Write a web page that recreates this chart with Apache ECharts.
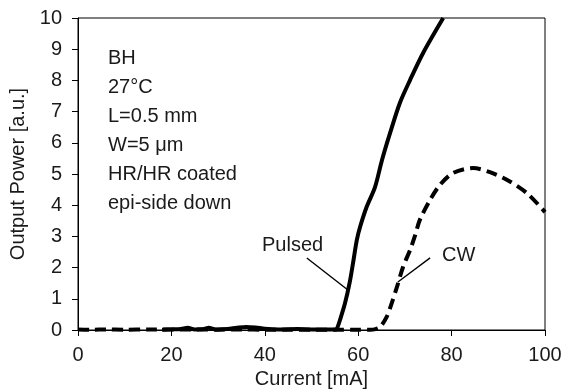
<!DOCTYPE html>
<html><head><meta charset="utf-8">
<script src="https://cdn.jsdelivr.net/npm/echarts@6/dist/echarts.min.js"></script>
<style>html,body{margin:0;padding:0;background:#fff}#c{width:564px;height:389px}</style>
</head><body><div id="c"></div>
<script>
const xTicks = [0, 20, 40, 60, 80, 100];
const yTicks = [0,1,2,3,4,5,6,7,8,9,10];
const pulsed = [[18,0.01],[20,0.02],[22,0.03],[23.5,0.07],[25,0.02],[27,0.03],[28,0.07],[29.5,0.02],[32,0.03],[34,0.07],[36,0.1],[38,0.08],[40,0.04],[43,0.02],[47,0.03],[50,0.02],[53,0.02],[55.3,0.02],[55.5,0.06],[56.1,0.32],[57.2,0.87],[58.2,1.54],[58.9,2.15],[59.7,2.88],[60.4,3.3],[61.8,3.94],[63.6,4.58],[65.1,5.45],[66.8,6.3],[68.9,7.27],[71.1,8.01],[73.9,8.88],[78.2,10]];
const cw = [[0,0.02],[3,0.01],[6,0.02],[10,0.01],[15,0.02],[20,0.02],[25,0.02],[30,0.01],[35,0.02],[40,0.01],[45,0.01],[50,0.01],[55,0.01],[60,0.01],[62.5,0.01],[63.7,0.03],[64.7,0.1],[66.1,0.42],[67.2,0.87],[68.3,1.38],[69.6,2.02],[71.1,2.56],[72.2,3.04],[73.2,3.53],[75.4,4.17],[77.5,4.65],[80.3,5.03],[84.6,5.19],[88.2,5.06],[91.9,4.81],[96.1,4.39],[100,3.78]];
const notes = ['BH','27°C','L=0.5 mm','W=5 μm','HR/HR coated','epi-side down'];
const pulsedLeader = [[49.0,2.31],[57.8,1.28]];
const cwLeader = [[75.4,2.31],[68.5,1.54]];

const chart = echarts.init(document.getElementById('c'), null, {renderer:'canvas'});
const font = 'Liberation Sans, Arial, sans-serif';
const txt = '#1a1a1a';
chart.setOption({
  animation:false,
  grid:{left:78,right:19,top:18,bottom:59,containLabel:false,outerBoundsMode:'none',show:true,borderColor:'#000',borderWidth:1,backgroundColor:'transparent'},
  xAxis:{type:'value',min:0,max:100,interval:20,
    name:'Current [mA]',nameLocation:'middle',nameGap:25,
    nameTextStyle:{fontFamily:font,fontSize:20,color:txt},
    axisLine:{lineStyle:{color:'#000',width:1}},
    axisTick:{show:true,inside:false,length:6,lineStyle:{color:'#000'}},
    axisLabel:{fontFamily:font,fontSize:20,color:txt,margin:15},
    splitLine:{show:false}},
  yAxis:{type:'value',min:0,max:10,interval:1,
    name:'Output Power [a.u.]',nameLocation:'middle',nameGap:49,
    nameTextStyle:{fontFamily:font,fontSize:20,color:txt},
    axisLine:{show:true,lineStyle:{color:'#000',width:1}},
    axisTick:{show:true,inside:false,length:6,lineStyle:{color:'#000'}},
    axisLabel:{fontFamily:font,fontSize:20,color:txt,margin:16},
    splitLine:{show:false}},
  graphic:[
    {type:'text',left:108,top:44,style:{text:notes.join('\n'),font:'20px '+font,fill:txt,lineHeight:29}},
    {type:'text',left:262,top:235,style:{text:'Pulsed',font:'20px '+font,fill:txt}},
    {type:'text',left:442,top:245,style:{text:'CW',font:'20px '+font,fill:txt}}
  ],
  series:[
    {type:'line',data:cw,smooth:0.3,symbol:'none',clip:true,
      lineStyle:{color:'#000',width:4,type:[11,6]},z:2},
    {type:'line',data:pulsed,smooth:0.3,symbol:'none',clip:true,
      lineStyle:{color:'#000',width:4},z:3},
    {type:'line',data:pulsedLeader,symbol:'none',silent:true,lineStyle:{color:'#000',width:1.4}},
    {type:'line',data:cwLeader,symbol:'none',silent:true,lineStyle:{color:'#000',width:1.4}}
  ]
});
</script></body></html>
